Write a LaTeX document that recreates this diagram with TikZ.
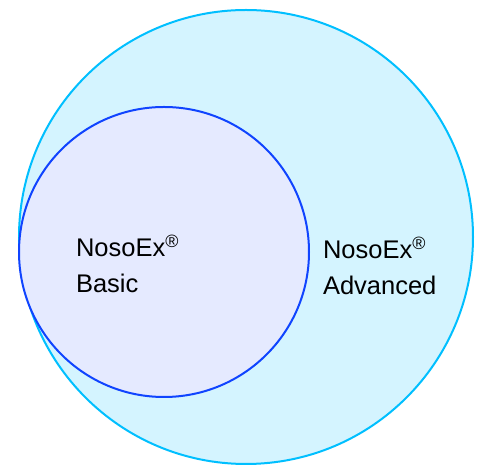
\documentclass[tikz,border=0pt]{standalone}
\usepackage{fontspec}
\setmainfont{Liberation Sans}
\definecolor{advline}{RGB}{0,191,255}
\definecolor{advfill}{RGB}{212,244,255}
\definecolor{basline}{RGB}{16,68,255}
\definecolor{basfill}{RGB}{229,234,255}
\begin{document}
\begin{tikzpicture}[x=1pt, y=1pt, line width=2pt,
    label/.style={align=left, anchor=base west, inner sep=0pt, font=\fontsize{25.5}{36}\selectfont}]
         \useasboundingbox (0,0) rectangle (477,465);
         %circles
         \node[draw=advline, fill=advfill, circle, minimum size=454pt, inner sep=0pt] at (246,228) (adv) {};
         \node[draw=basline, fill=basfill, circle, minimum size=290pt, inner sep=0pt] at (164,213) (bas) {};
         %labels
         \node[label] at (75,172) (baslabel) {NosoEx\textsuperscript{®}\\Basic};
         \node[label] at (322,170) (advlabel) {NosoEx\textsuperscript{®}\\Advanced};
    \end{tikzpicture}
\end{document}
